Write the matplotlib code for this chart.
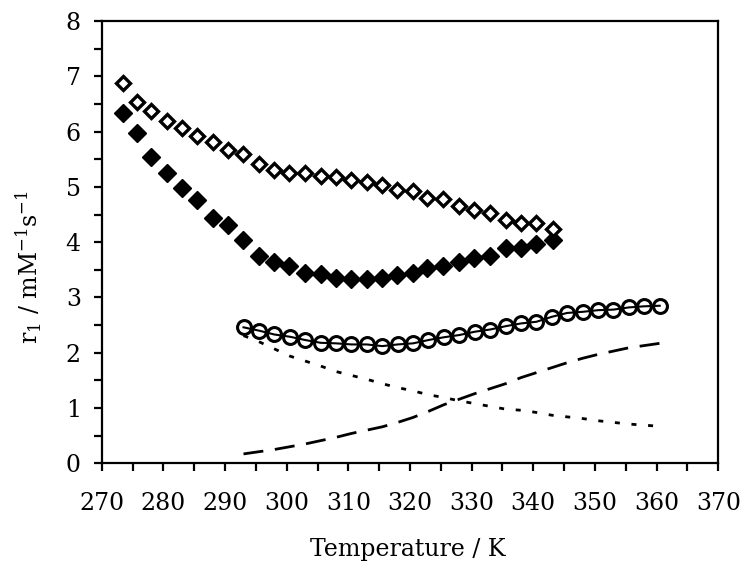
import matplotlib
matplotlib.use('Agg')
import matplotlib.pyplot as plt
from matplotlib.ticker import MultipleLocator

plt.rcParams['font.family'] = ['DejaVu Serif']
plt.rcParams['mathtext.fontset'] = 'dejavuserif'

# Diamond series (same temperatures)
temp_diamonds = [273.5, 275.7, 278.0, 280.6, 283.0, 285.5, 288.1, 290.5, 292.9, 295.5,
                 297.9, 300.4, 303.0, 305.6, 308.0, 310.4, 313.0, 315.5, 317.9, 320.5,
                 322.8, 325.4, 328.0, 330.4, 333.0, 335.6, 338.0, 340.5, 343.2]
r1_open_diamonds = [6.88, 6.53, 6.38, 6.20, 6.06, 5.92, 5.81, 5.67, 5.59, 5.41,
                    5.30, 5.25, 5.25, 5.20, 5.17, 5.13, 5.09, 5.03, 4.94, 4.92,
                    4.80, 4.78, 4.65, 4.59, 4.52, 4.40, 4.35, 4.34, 4.23]
r1_filled_diamonds = [6.34, 5.97, 5.54, 5.26, 4.98, 4.77, 4.43, 4.31, 4.04, 3.75,
                      3.65, 3.56, 3.45, 3.42, 3.35, 3.33, 3.33, 3.36, 3.40, 3.45,
                      3.53, 3.56, 3.65, 3.71, 3.75, 3.89, 3.90, 3.96, 4.04]

# Circle series and its two components
temp_circles = [293.0, 295.5, 298.0, 300.5, 303.0, 305.5, 308.0, 310.5, 313.0, 315.5,
                318.0, 320.5, 323.0, 325.5, 328.0, 330.5, 333.0, 335.5, 338.0, 340.5,
                343.0, 345.5, 348.0, 350.5, 353.0, 355.5, 358.0, 360.5]
r1_circles = [2.46, 2.40, 2.33, 2.29, 2.23, 2.18, 2.17, 2.15, 2.15, 2.12,
              2.15, 2.17, 2.23, 2.28, 2.32, 2.38, 2.42, 2.48, 2.53, 2.56,
              2.65, 2.72, 2.74, 2.77, 2.78, 2.82, 2.84, 2.85]
r1_dotted = [2.31, 2.20, 2.07, 1.94, 1.85, 1.76, 1.66, 1.59, 1.52, 1.44,
             1.37, 1.31, 1.24, 1.19, 1.13, 1.08, 1.03, 0.98, 0.96, 0.92,
             0.87, 0.84, 0.81, 0.77, 0.74, 0.71, 0.69, 0.67]
r1_dashed = [0.17, 0.21, 0.25, 0.30, 0.35, 0.41, 0.47, 0.54, 0.60, 0.66,
             0.74, 0.83, 0.94, 1.06, 1.16, 1.26, 1.35, 1.44, 1.55, 1.64,
             1.73, 1.82, 1.90, 1.97, 2.03, 2.09, 2.13, 2.17]

x_ticks = [270, 280, 290, 300, 310, 320, 330, 340, 350, 360, 370]
y_ticks = [0, 1, 2, 3, 4, 5, 6, 7, 8]

fig = plt.figure(figsize=(7.5, 5.68), dpi=100)
ax = fig.add_axes([0.1356, 0.1843, 0.8221, 0.7787])

ax.plot(temp_circles, r1_dotted, color='black', lw=2.0, dashes=(1.8, 4.2), zorder=2)
ax.plot(temp_circles, r1_dashed, color='black', lw=2.0, dashes=(7.2, 4.2), zorder=2)
ax.plot(temp_circles, r1_circles, color='black', lw=1.5, marker='o', ms=10,
        mfc='none', mec='black', mew=2.2, zorder=3)
ax.plot(temp_diamonds, r1_filled_diamonds, ls='none', marker='D', ms=9,
        mfc='black', mec='black', mew=1.0, zorder=3)
ax.plot(temp_diamonds, r1_open_diamonds, ls='none', marker='D', ms=7.6,
        mfc='white', mec='black', mew=2.4, zorder=4)

ax.set_xlim(270, 370)
ax.set_ylim(0, 8)
ax.set_xticks(x_ticks)
ax.set_yticks(y_ticks)
ax.xaxis.set_minor_locator(MultipleLocator(5))
ax.yaxis.set_minor_locator(MultipleLocator(0.5))
ax.tick_params(which='both', direction='out', length=6, width=1.6, top=False, right=False)
ax.tick_params(axis='x', which='major', labelsize=17, pad=15)
ax.tick_params(axis='y', which='major', labelsize=17, pad=9)
for s in ax.spines.values():
    s.set_linewidth(1.6)

fig.text(0.543, 0.032, 'Temperature / K', ha='center', va='center', fontsize=17)
fig.text(0.038, 0.53, r'r$_1$ / mM$^{-1}$s$^{-1}$', ha='center', va='center',
         rotation=90, fontsize=17)

fig.savefig('out.png', dpi=100)
